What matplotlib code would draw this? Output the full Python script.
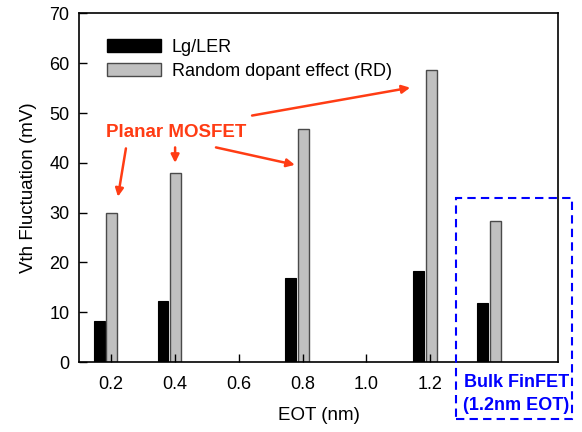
import matplotlib
matplotlib.use("Agg")
import matplotlib.pyplot as plt
from matplotlib.patches import Rectangle, Patch
import numpy as np

plt.rcParams["font.family"] = ["Liberation Sans", "DejaVu Sans"]
plt.rcParams["font.size"] = 13

# EOT positions (1.4 slot holds the bulk FinFET at 1.2nm EOT)
eot = np.array([0.2, 0.4, 0.8, 1.2, 1.4])
lg_ler = [8.2, 12.2, 16.8, 18.2, 11.9]
rd = [30.0, 38.0, 46.7, 58.6, 28.4]
xticks = [0.2, 0.4, 0.6, 0.8, 1.0, 1.2]

ORANGE = "#ff3c14"
BLUE = "#0000ff"

fig = plt.figure(figsize=(5.82, 4.32), dpi=100)
ax = fig.add_axes([0.1357, 0.162, 0.8231, 0.8068])

w = 0.034
ax.bar(eot - 0.037, lg_ler, width=w, color="black", edgecolor="black", linewidth=0.8)
ax.bar(eot + 0.003, rd, width=w, color="#c0c0c0", edgecolor="#4a4a4a", linewidth=1.0)

ax.set_xlim(0.1, 1.6)
ax.set_ylim(0, 70)
ax.set_xticks(xticks)
ax.set_xticklabels([f"{t:.1f}" for t in xticks])
ax.set_yticks(range(0, 71, 10))
ax.tick_params(direction="in", length=6, width=1.0, labelsize=13)
ax.tick_params(axis="x", pad=10)
ax.tick_params(axis="y", pad=7)
for s in ax.spines.values():
    s.set_linewidth(1.2)

ax.set_xlabel("EOT (nm)", fontsize=13.5, labelpad=10)
ax.set_ylabel("Vth Fluctuation (mV)", fontsize=13.5, labelpad=9)

handles = [Patch(facecolor="black", edgecolor="black"),
           Patch(facecolor="#c0c0c0", edgecolor="#4a4a4a")]
ax.legend(handles, ["Lg/LER", "Random dopant effect (RD)"], loc="upper left",
          bbox_to_anchor=(0.058, 0.928), frameon=False, fontsize=13,
          handlelength=3.0, handleheight=0.75, handletextpad=0.6,
          borderpad=0, borderaxespad=0, labelspacing=0.4)

# Planar MOSFET callout
ax.text(0.404, 46.1, "Planar MOSFET", color=ORANGE, fontsize=13.5,
        fontweight="bold", ha="center", va="center")
arrows = [((0.247, 42.9), (0.222, 33.2)),
          ((0.401, 43.1), (0.401, 40.0)),
          ((0.529, 43.1), (0.776, 39.6)),
          ((0.642, 49.5), (1.137, 55.1))]
for tail, tip in arrows:
    ax.annotate("", xy=tip, xytext=tail,
                arrowprops=dict(arrowstyle="-|>", color=ORANGE, lw=1.8,
                                mutation_scale=12, shrinkA=0, shrinkB=0))

# Bulk FinFET box, spills below the axis
fig.patches.append(Rectangle((0.783, 0.030), 0.1998, 0.5116, transform=fig.transFigure,
                             fill=False, edgecolor=BLUE, linewidth=1.5,
                             linestyle=(0, (4, 2.5))))
fig.text(0.887, 0.088, "Bulk FinFET\n(1.2nm EOT)", color=BLUE, fontsize=13,
         fontweight="bold", ha="center", va="center", linespacing=1.45)

fig.savefig("out.png", dpi=100)
